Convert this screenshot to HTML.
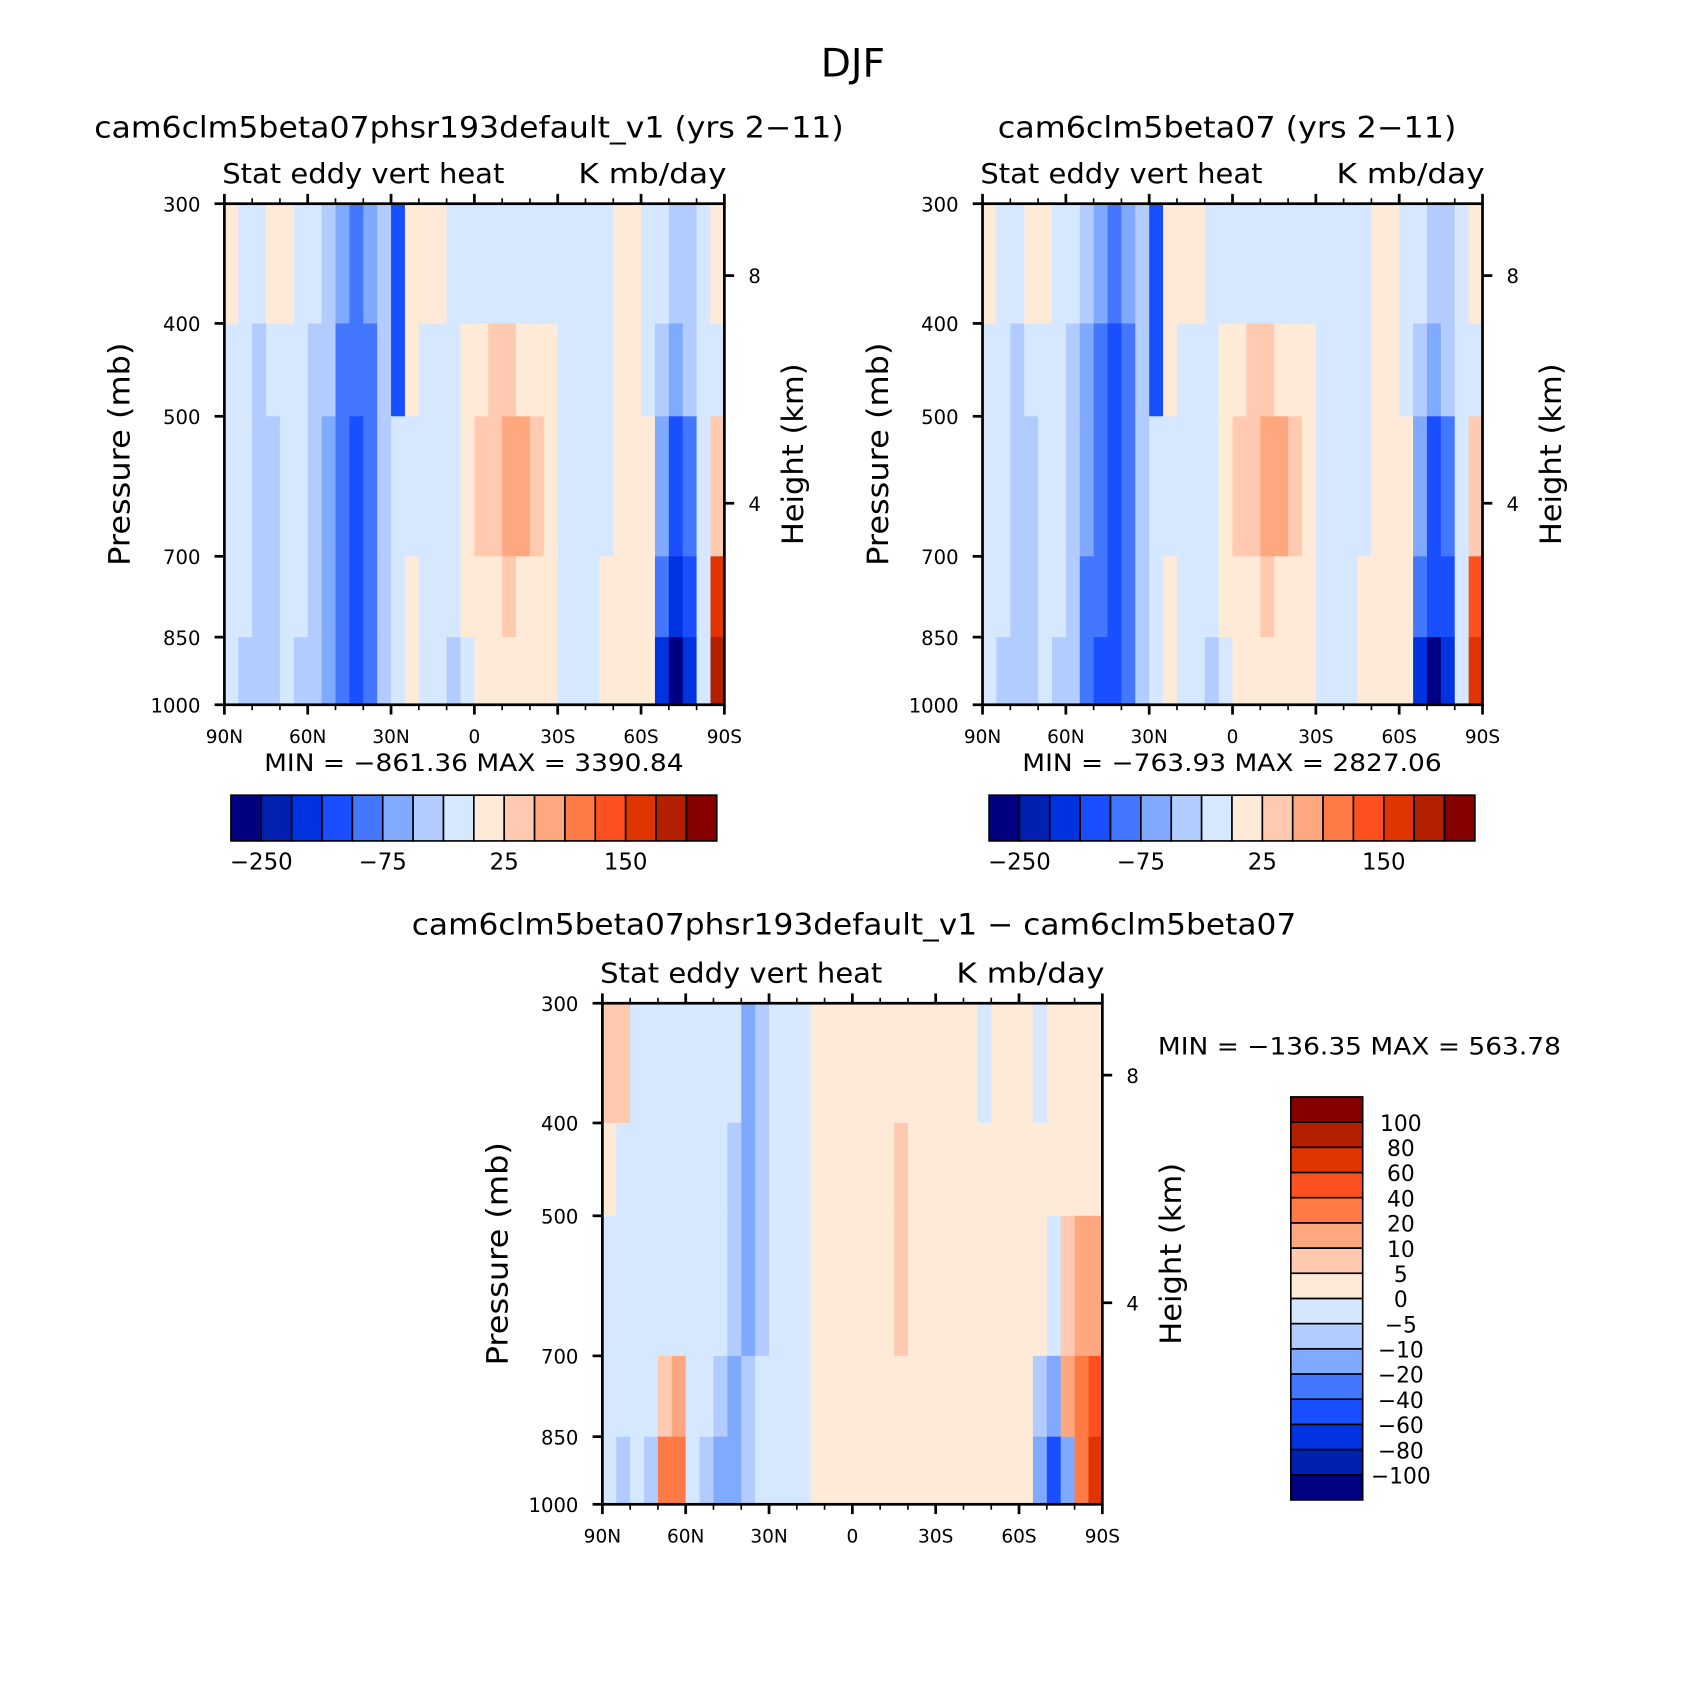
<!DOCTYPE html>
<html><head><meta charset="utf-8"><style>
html,body{margin:0;padding:0;background:#fff}
svg{display:block}
text{font-family:"DejaVu Sans","Liberation Sans",sans-serif;fill:#000}
</style></head><body>
<svg id="fig" width="1708" height="1708" viewBox="0 0 1568 1568" xmlns="http://www.w3.org/2000/svg">
<text x="783" y="70" font-size="36" text-anchor="middle">DJF</text>
</svg>
<script>
// ---- data ----
const lats = [87.5,82.5,77.5,72.5,67.5,62.5,57.5,52.5,47.5,42.5,37.5,32.5,27.5,22.5,17.5,12.5,7.5,2.5,-2.5,-7.5,-12.5,-17.5,-22.5,-27.5,-32.5,-37.5,-42.5,-47.5,-52.5,-57.5,-62.5,-67.5,-72.5,-77.5,-82.5,-87.5];
const presBounds = [300,400,500,700,850,1000];
const levelsTop = [-250,-200,-150,-100,-75,-50,-25,0,25,50,75,100,150,200,250];
const levelsDiff = [-100,-80,-60,-40,-20,-10,-5,0,5,10,20,40,60,80,100];
const topLabels = ["-250","-75","25","150"];
const diffLabels = ["-100","-80","-60","-40","-20","-10","-5","0","5","10","20","40","60","80","100"];
const pTicks = [300,400,500,700,850,1000];
const latTickLabels = ["90N","60N","30N","0","30S","60S","90S"];
const hTicks = [8,4];
const colors = ["#000080","#0020b0","#0033e0","#1a4fff","#4477ff","#80aaff","#b3ccff","#d6e8ff","#ffead8","#ffcab0","#ffa880","#ff7a45","#ff5020","#e03500","#b32000","#870000"];

const p1 = [
[10,-10,-10,10,10,-10,-10,-40,-60,-80,-60,-30,-120,10,10,10,-10,-10,-10,-10,-10,-10,-10,-10,-10,-10,-10,-10,10,10,-10,-10,-40,-30,-10,10],
[-10,-10,-30,-10,-10,-10,-30,-50,-80,-100,-80,-30,-120,10,-10,-10,-10,10,20,30,30,20,10,10,-10,-10,-10,-10,10,10,-10,-40,-60,-40,-10,-10],
[-10,-10,-40,-30,-10,-10,-30,-60,-90,-110,-80,-30,-10,-10,-10,-10,-10,10,30,40,60,60,40,10,-10,-10,-10,-10,10,10,10,-60,-110,-80,-10,30],
[-10,-10,-30,-40,-10,-10,-30,-70,-90,-110,-80,-30,-10,10,-10,-10,-10,10,20,20,30,20,10,10,-10,-10,-10,10,10,10,10,-90,-160,-120,-10,160],
[-10,-30,-30,-30,-20,-30,-40,-70,-100,-110,-80,-30,-10,10,-10,-10,-30,-10,10,10,10,10,10,10,-10,-10,-10,10,10,10,10,-200,-260,-200,-20,200]];
const p2 = [
[10,-10,-10,10,10,-10,-10,-40,-70,-90,-70,-30,-110,10,10,10,-10,-10,-10,-10,-10,-10,-10,-10,-10,-10,-10,-10,10,10,-10,-10,-30,-30,-10,10],
[-10,-10,-30,-10,-10,-10,-30,-60,-90,-110,-90,-30,-110,10,-10,-10,-10,10,20,30,30,20,10,10,-10,-10,-10,-10,10,10,-10,-30,-60,-40,-10,-10],
[-10,-10,-40,-30,-10,-10,-40,-70,-100,-110,-90,-30,-10,-10,-10,-10,-10,10,30,40,60,50,30,10,-10,-10,-10,-10,10,10,10,-60,-110,-80,-10,30],
[-10,-10,-30,-40,-10,-10,-40,-80,-100,-110,-90,-30,-10,10,-10,-10,-10,10,20,20,30,20,10,10,-10,-10,-10,10,10,10,10,-90,-150,-120,-10,130],
[-10,-30,-30,-30,-20,-30,-50,-80,-110,-110,-90,-30,-10,10,-10,-10,-30,-10,10,10,10,10,10,10,-10,-10,-10,10,10,10,10,-200,-260,-180,-20,160]];
const p3 = [
[5,5,-3,-3,-3,-3,-3,-3,-3,-5,-15,-10,-3,-3,-3,3,3,3,3,3,3,3,3,3,3,3,3,-3,3,3,3,-3,3,3,3,3],
[3,-3,-3,-3,-3,-3,-3,-3,-3,-8,-15,-10,-3,-3,-3,3,3,3,3,3,3,7,3,3,3,3,3,3,3,3,3,3,3,3,3,3],
[-3,-3,-3,-3,-3,-3,-3,-3,-3,-8,-12,-8,-3,-3,-3,3,3,3,3,3,3,7,3,3,3,3,3,3,3,3,3,3,-3,8,15,15],
[-3,-3,-3,-3,8,15,-3,-3,-8,-15,-10,-5,-3,-3,-3,3,3,3,3,3,3,3,3,3,3,3,3,3,3,3,3,-8,-15,10,25,45],
[-3,-8,-3,-10,25,30,-3,-8,-12,-15,-10,-3,-3,-3,-3,3,3,3,3,3,3,3,3,3,3,3,3,3,3,3,3,-20,-60,-20,20,60]];

// ---- drawing ----
const svg = document.getElementById('fig');
const NS = "http://www.w3.org/2000/svg";
function mk(tag, attrs, parent){const e=document.createElementNS(NS,tag);for(const k in attrs)e.setAttribute(k,attrs[k]);(parent||svg).appendChild(e);return e;}
function txt(x,y,s,size,anchor,parent,len){const t=mk('text',{x:x,y:y,'font-size':size,'text-anchor':anchor||'middle'},parent);if(len){t.setAttribute('textLength',len);t.setAttribute('lengthAdjust','spacingAndGlyphs');}t.textContent=s;return t;}
function colorIdx(v,lev){let i=0;while(i<lev.length&&v>=lev[i])i++;return i;}

function panel(ox,oy,title,titleLen,data,lev,name){
  const W=459,H=460;
  const g=mk('g',{});
  
  
  const xS=lat=>ox+(90-lat)/180*W;
  const yS=p=>oy+Math.log(p/300)/Math.log(1000/300)*H;
  for(let r=0;r<data.length;r++){
    for(let c=0;c<lats.length;c++){
      const x0=xS(lats[c]+2.5), x1=xS(lats[c]-2.5);
      const y0=yS(presBounds[r]), y1=yS(presBounds[r+1]);
      const cell=mk('rect',{x:x0,y:y0,width:x1-x0+0.6,height:y1-y0+0.6,fill:colors[colorIdx(data[r][c],lev)]},g);
      
      
    }
  }
  mk('rect',{x:ox,y:oy,width:W,height:H,fill:'none',stroke:'#000','stroke-width':2.5},g);
  for(let d=0;d<=180;d+=10){
    const x=ox+d/180*W, maj=d%30===0;
    const L=maj?9:5;
    mk('line',{x1:x,y1:oy+H,x2:x,y2:oy+H+L,stroke:'#000','stroke-width':maj?2.5:1.5},g);
    mk('line',{x1:x,y1:oy,x2:x,y2:oy-L,stroke:'#000','stroke-width':maj?2.5:1.5},g);
  }
  latTickLabels.forEach((s,i)=>{const t=txt(ox+i*30/180*W,oy+H+35,s,17,'middle',g);
    
    });
  pTicks.forEach(p=>{const y=yS(p);
    mk('line',{x1:ox-9,y1:y,x2:ox,y2:y,stroke:'#000','stroke-width':2.5},g);
    const t=txt(ox-22,y+7,String(p),18,'end',g);
    
    });
  const hY={8:66,4:275};
  hTicks.forEach(h=>{const y=oy+hY[h];
    mk('line',{x1:ox+W,y1:y,x2:ox+W+9,y2:y,stroke:'#000','stroke-width':2.5},g);
    const t=txt(ox+W+22,y+7,String(h),18,'start',g);
    
    });
  if(title){
    const tt=txt(ox+W/2-5,oy-61,title,27,'middle',g,titleLen);
    
    
  }
  const a=txt(ox-2,oy-19,'Stat eddy vert heat',25,'start',g,259);
  
  
  const u=txt(ox+W+2,oy-19,'K mb/day',25,'end',g,136);
  
  
  const yl=txt(0,0,'Pressure (mb)',27,'middle',g,205);
  yl.setAttribute('transform',`translate(${ox-87},${oy+230}) rotate(-90)`);
  
  
  const hl=txt(0,0,'Height (km)',27,'middle',g,167);
  hl.setAttribute('transform',`translate(${ox+W+72},${oy+230}) rotate(-90)`);
  
  
}

function hbar(x,y,labels,name){
  const g=mk('g',{});
  
  
  const bw=446/16;
  colors.forEach((c,i)=>{const r=mk('rect',{x:x+i*bw,y:y,width:bw,height:42,fill:c,stroke:'#000','stroke-width':1.5},g);
    
    });
  labels.forEach((s,i)=>{const t=txt(x+(1+4*i)*bw,y+68,s.replace('-','\u2212'),21,'middle',g);
    
    });
}

panel(206,187,'cam6clm5beta07phsr193default_v1 (yrs 2\u221211)',688,p1,levelsTop,'panel-test');
panel(902,187,'cam6clm5beta07 (yrs 2\u221211)',421,p2,levelsTop,'panel-control');
panel(553,921,'',0,p3,levelsDiff,'panel-difference');
const dt=txt(784,858,'cam6clm5beta07phsr193default_v1 \u2212 cam6clm5beta07',27,'middle',null,812);



let m=txt(435,708,'MIN = \u2212861.36   MAX = 3390.84',22,'middle',null,385);


m=txt(1131,708,'MIN = \u2212763.93   MAX = 2827.06',22,'middle',null,385);


m=txt(1248,968,'MIN = \u2212136.35   MAX = 563.78',22,'middle',null,370);



hbar(212,730,topLabels,'colorbar-test');
hbar(908,730,topLabels,'colorbar-control');

(function(){
  const g=mk('g',{});
  
  
  const x=1185,y=1007,bh=370/16;
  colors.forEach((c,i)=>{const r=mk('rect',{x:x,y:y+(15-i)*bh,width:66,height:bh,fill:c,stroke:'#000','stroke-width':1.5},g);
    
    });
  diffLabels.forEach((s,i)=>{const t=txt(1286,y+(15-i)*bh+8,s.replace('-','\u2212'),20,'middle',g);
    
    });
})();
</script>
</body></html>
